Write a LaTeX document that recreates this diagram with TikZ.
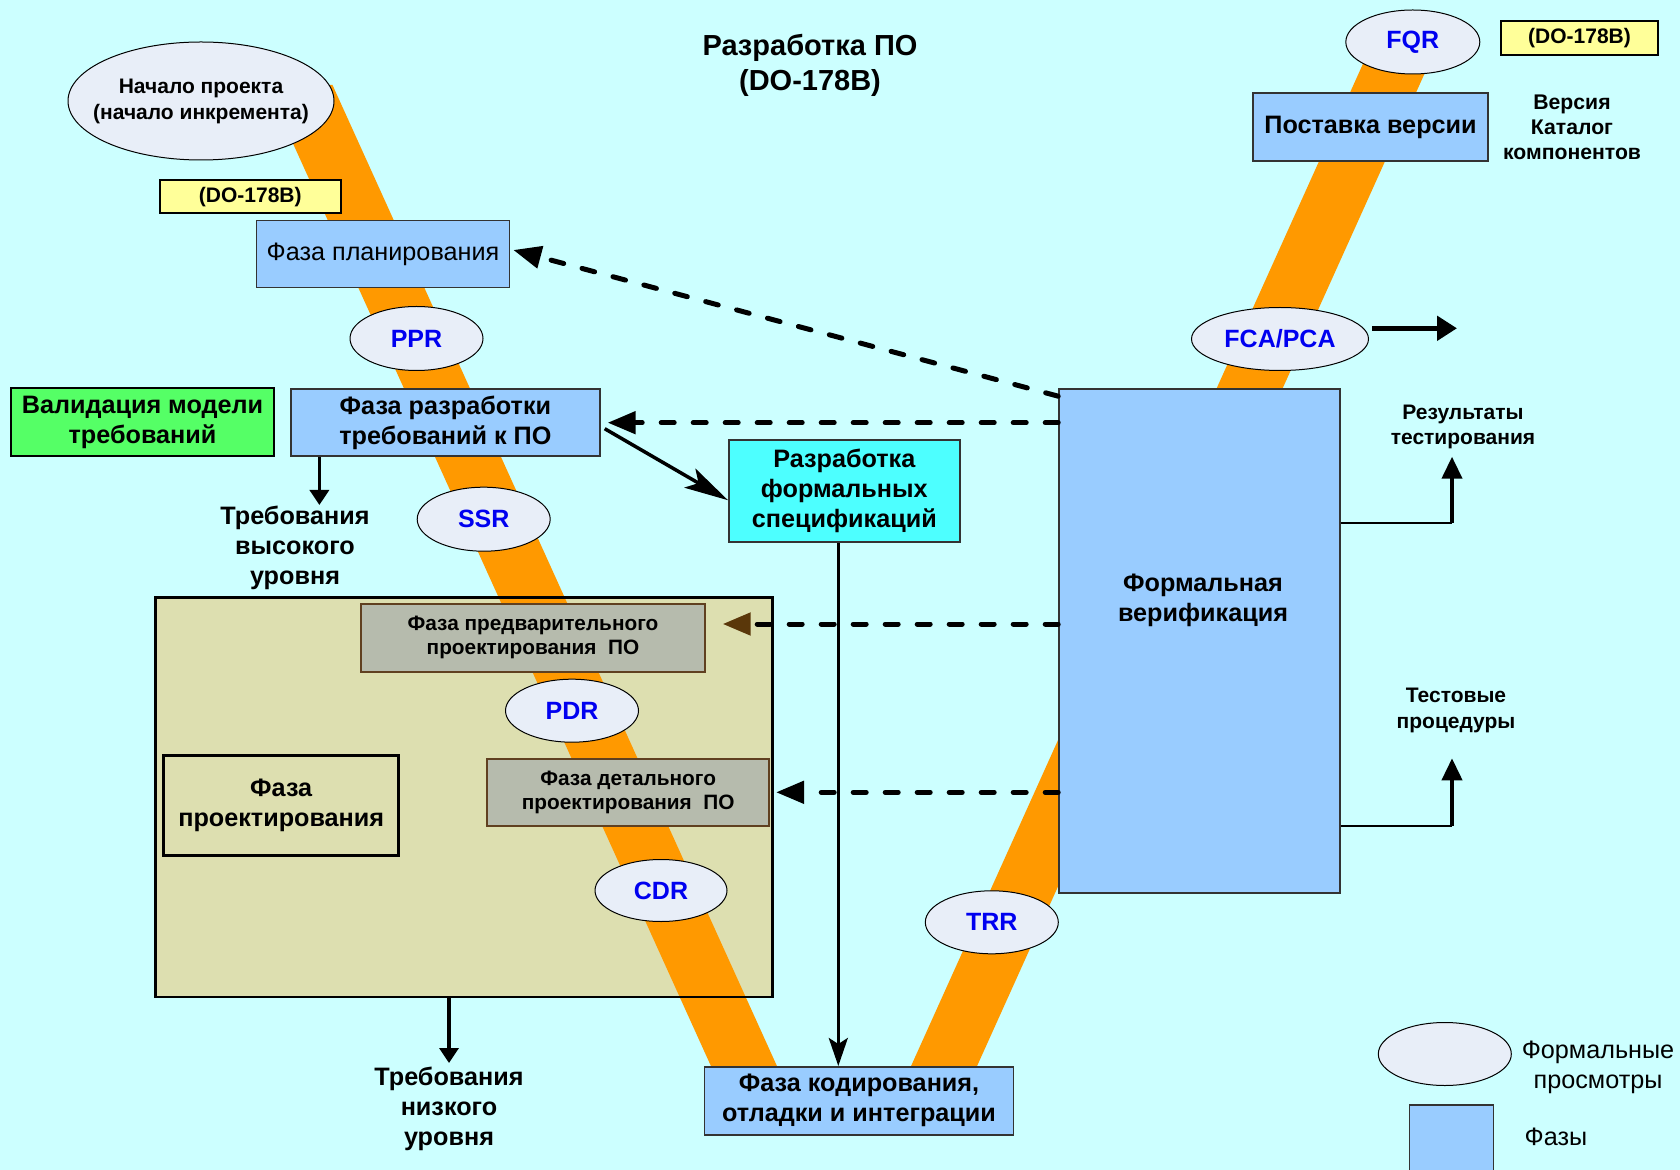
\documentclass[tikz,border=0pt]{standalone}
\usepackage{fontspec}
\setmainfont{Liberation Sans}
\usetikzlibrary{arrows.meta,shapes.geometric,calc}

\definecolor{bg}{RGB}{204,255,255}
\definecolor{band}{RGB}{255,153,0}
\definecolor{ellfill}{RGB}{232,238,248}
\definecolor{phase}{RGB}{153,204,255}
\definecolor{yel}{RGB}{255,255,153}
\definecolor{grn}{RGB}{85,255,102}
\definecolor{cyn}{RGB}{77,255,255}
\definecolor{khaki}{RGB}{221,223,176}
\definecolor{greybox}{RGB}{182,187,173}
\definecolor{brownline}{RGB}{96,64,32}
\definecolor{brownhead}{RGB}{90,55,10}
\definecolor{lblue}{RGB}{0,0,240}

\tikzset{
  sz/.style 2 args={minimum width=#1*0.5pt, minimum height=#2*0.5pt},
  review/.style={ellipse, draw=black, line width=0.5pt, fill=ellfill, inner sep=0pt,
    font=\fontsize{12.5}{14}\selectfont\bfseries, text=lblue},
  phasebox/.style={rectangle, draw=black!80, line width=0.8pt, fill=phase, inner sep=0pt, align=center},
  boldtxt/.style={font=\fontsize{12.6}{15}\selectfont\bfseries},
  yellowbox/.style={rectangle, draw=black, line width=1.3pt, fill=yel, inner sep=0pt,
    font=\fontsize{10.5}{12}\selectfont\bfseries},
  greybx/.style={rectangle, draw=brownline, line width=0.9pt, fill=greybox, inner sep=0pt, align=center,
    font=\fontsize{10.4}{12}\selectfont\bfseries},
  plaintext/.style={inner sep=0pt, align=center},
  dasharrow/.style={line width=2.5pt, dash pattern=on 6.5pt off 9.5pt, line cap=round,
    -{Triangle[length=14pt,width=11pt]}},
  diagarrow/.style={line width=1.75pt, -{Stealth[length=22pt,width=11pt,inset=5pt]}},
  vertarrow/.style={line width=1.5pt, -{Stealth[length=14pt,width=9.5pt,inset=3pt]}},
  downarrow/.style={line width=1.75pt, -{Triangle[length=7.5pt,width=9.5pt]}},
  uparrow/.style={line width=2pt, -{Triangle[length=11pt,width=10pt]}},
  thinline/.style={line width=1pt},
  fcaarrow/.style={line width=2.5pt, -{Triangle[length=10pt,width=12pt]}}
}

\begin{document}
\begin{tikzpicture}[x=0.5pt,y=-0.5pt]
\useasboundingbox (0,0) rectangle (1680,1170);
\begin{scope}
\clip (0,0) rectangle (1680,1170);
\fill[bg] (0,0) rectangle (1680,1170);

% container fill
\node[rectangle, fill=khaki, inner sep=0pt, sz={616}{399}] (container) at (464,797) {};

% orange bands
\fill[band] (266.5,85) -- (332.5,85) -- (781,1075) -- (715,1075) -- cycle;
\fill[band] (907,1075) -- (973,1075) -- (1435.2,50) -- (1369.2,50) -- cycle;

% container border
\draw[line width=1.4pt] (container.north west) rectangle (container.south east);

% title
\node[plaintext, font=\fontsize{14.5}{17.5}\selectfont\bfseries] (title) at (810,65) {Разработка ПО\\(DO-178B)};

% left branch
\node[review, sz={266}{118}, inner xsep=-12pt, text=black, align=center, font=\fontsize{10.5}{13}\selectfont\bfseries] (start) at (201,101) {Начало проекта\\(начало инкремента)};
\node[yellowbox, sz={181}{33}] (doa) at (250.3,196.7) {(DO-178B)};
\node[phasebox, sz={253}{67}, font=\fontsize{12.6}{14}\selectfont] (plan) at (383,254) {Фаза планирования};
\node[review, sz={133}{64}] (ppr) at (416.5,338.5) {PPR};
\node[rectangle, draw=black, line width=1.3pt, fill=grn, inner sep=0pt, align=center, boldtxt, sz={263}{68}] (valid) at (142.5,422) {Валидация модели\\требований};
\node[phasebox, boldtxt, sz={309}{67}] (req) at (445.4,422.7) {Фаза разработки\\требований к ПО};
\node[plaintext, boldtxt] (highreq) at (295,547.6) {Требования\\высокого\\уровня};
\node[review, sz={133}{64}] (ssr) at (483.7,519.2) {SSR};
\node[rectangle, draw=black!80, line width=0.8pt, fill=cyn, inner sep=0pt, align=center, boldtxt, sz={231}{102}] (spec) at (844.3,491.2) {Разработка\\формальных\\спецификаций};

% design phase
\node[greybx, sz={344}{68}] (prelim) at (533,637.9) {Фаза предварительного\\проектирования\ \ ПО};
\node[review, sz={133}{63}] (pdr) at (572,710.7) {PDR};
\node[greybx, sz={282}{67}] (detail) at (628.2,792.3) {Фаза детального\\проектирования\ \ ПО};
\node[rectangle, draw=black, line width=1.6pt, inner sep=0pt, align=center, boldtxt, sz={235}{100}] (design) at (281.2,805.5) {Фаза\\проектирования};
\node[review, sz={132}{62}] (cdr) at (661,890.5) {CDR};
\node[plaintext, boldtxt] (lowreq) at (449,1109) {Требования\\низкого\\уровня};

% coding
\node[phasebox, boldtxt, sz={309}{68}] (code) at (859,1100.8) {Фаза кодирования,\\отладки и интеграции};
\node[review, sz={133}{63}] (trr) at (991.8,922.3) {TRR};

% verification
\node[phasebox, sz={281}{504}] (verif) at (1199.5,641) {};
\node[plaintext, boldtxt] (veriftxt) at (1203,600) {Формальная\\верификация};
\node[plaintext, font=\fontsize{10.5}{12.5}\selectfont\bfseries] (results) at (1463,427) {Результаты\\тестирования};
\node[plaintext, font=\fontsize{10.5}{13}\selectfont\bfseries] (testproc) at (1456,710) {Тестовые\\процедуры};

% right branch top
\node[review, sz={177}{63}] (fca) at (1280,339) {FCA/PCA};
\node[phasebox, sz={235}{68}, font=\fontsize{12.6}{14}\selectfont\bfseries] (deliver) at (1370.5,127.3) {Поставка версии};
\node[review, sz={134}{64}] (fqr) at (1412.8,42) {FQR};
\node[yellowbox, sz={157}{34}] (dob) at (1579.5,37.9) {(DO-178B)};
\node[plaintext, font=\fontsize{10.6}{12.5}\selectfont\bfseries] (version) at (1572,127) {Версия\\Каталог\\компонентов};

% legend
\node[review, sz={133}{63}] (legell) at (1444.8,1054) {};
\node[plaintext, font=\fontsize{12.6}{15}\selectfont] (legtext) at (1598,1067) {Формальные\\просмотры};
\node[phasebox, sz={84}{70}] (legrect) at (1451.6,1140) {};
\node[plaintext, font=\fontsize{12.6}{14}\selectfont] (legphase) at (1556,1137) {Фазы};

% connectors
\draw[dasharrow] ([yshift=-4pt]verif.north west) -- ([xshift=1.5pt,yshift=2pt]plan.east);
\draw[dasharrow] (verif.west |- req.east) -- ([xshift=3.5pt]req.east);
\coordinate (pa) at (722.7,624);
\draw[dasharrow, -{Triangle[length=14pt,width=11pt,color=brownhead]}] (verif.west |- pa) -- (pa);
\draw[dasharrow] (verif.west |- detail.east) -- ([xshift=3pt]detail.east);

\draw[diagarrow] ($(req.east)+(4,6)$) -- ($(spec.west)+(0,9)$);
\coordinate (sp) at ($(spec.south)+(-6,0)$);
\draw[vertarrow] (sp) -- (sp |- code.north);

\coordinate (hq) at (319.4,505);
\draw[downarrow] (req.south -| hq) -- (hq);
\coordinate (lq) at (449,1063);
\draw[downarrow] (container.south -| lq) -- (lq);

\coordinate (r1) at (1452,523.3);
\coordinate (r1t) at (1452,456.7);
\draw[thinline] (verif.east |- r1) -- (r1);
\draw[uparrow] (r1) -- (r1t);
\coordinate (r2) at (1452,825.7);
\coordinate (r2t) at (1452,758.3);
\draw[thinline] (verif.east |- r2) -- (r2);
\draw[uparrow] (r2) -- (r2t);

\coordinate (fo) at (1457,328.3);
\draw[fcaarrow] ($(fca.east |- fo)+(3,0)$) -- (fo);
\end{scope}
\end{tikzpicture}
\end{document}
